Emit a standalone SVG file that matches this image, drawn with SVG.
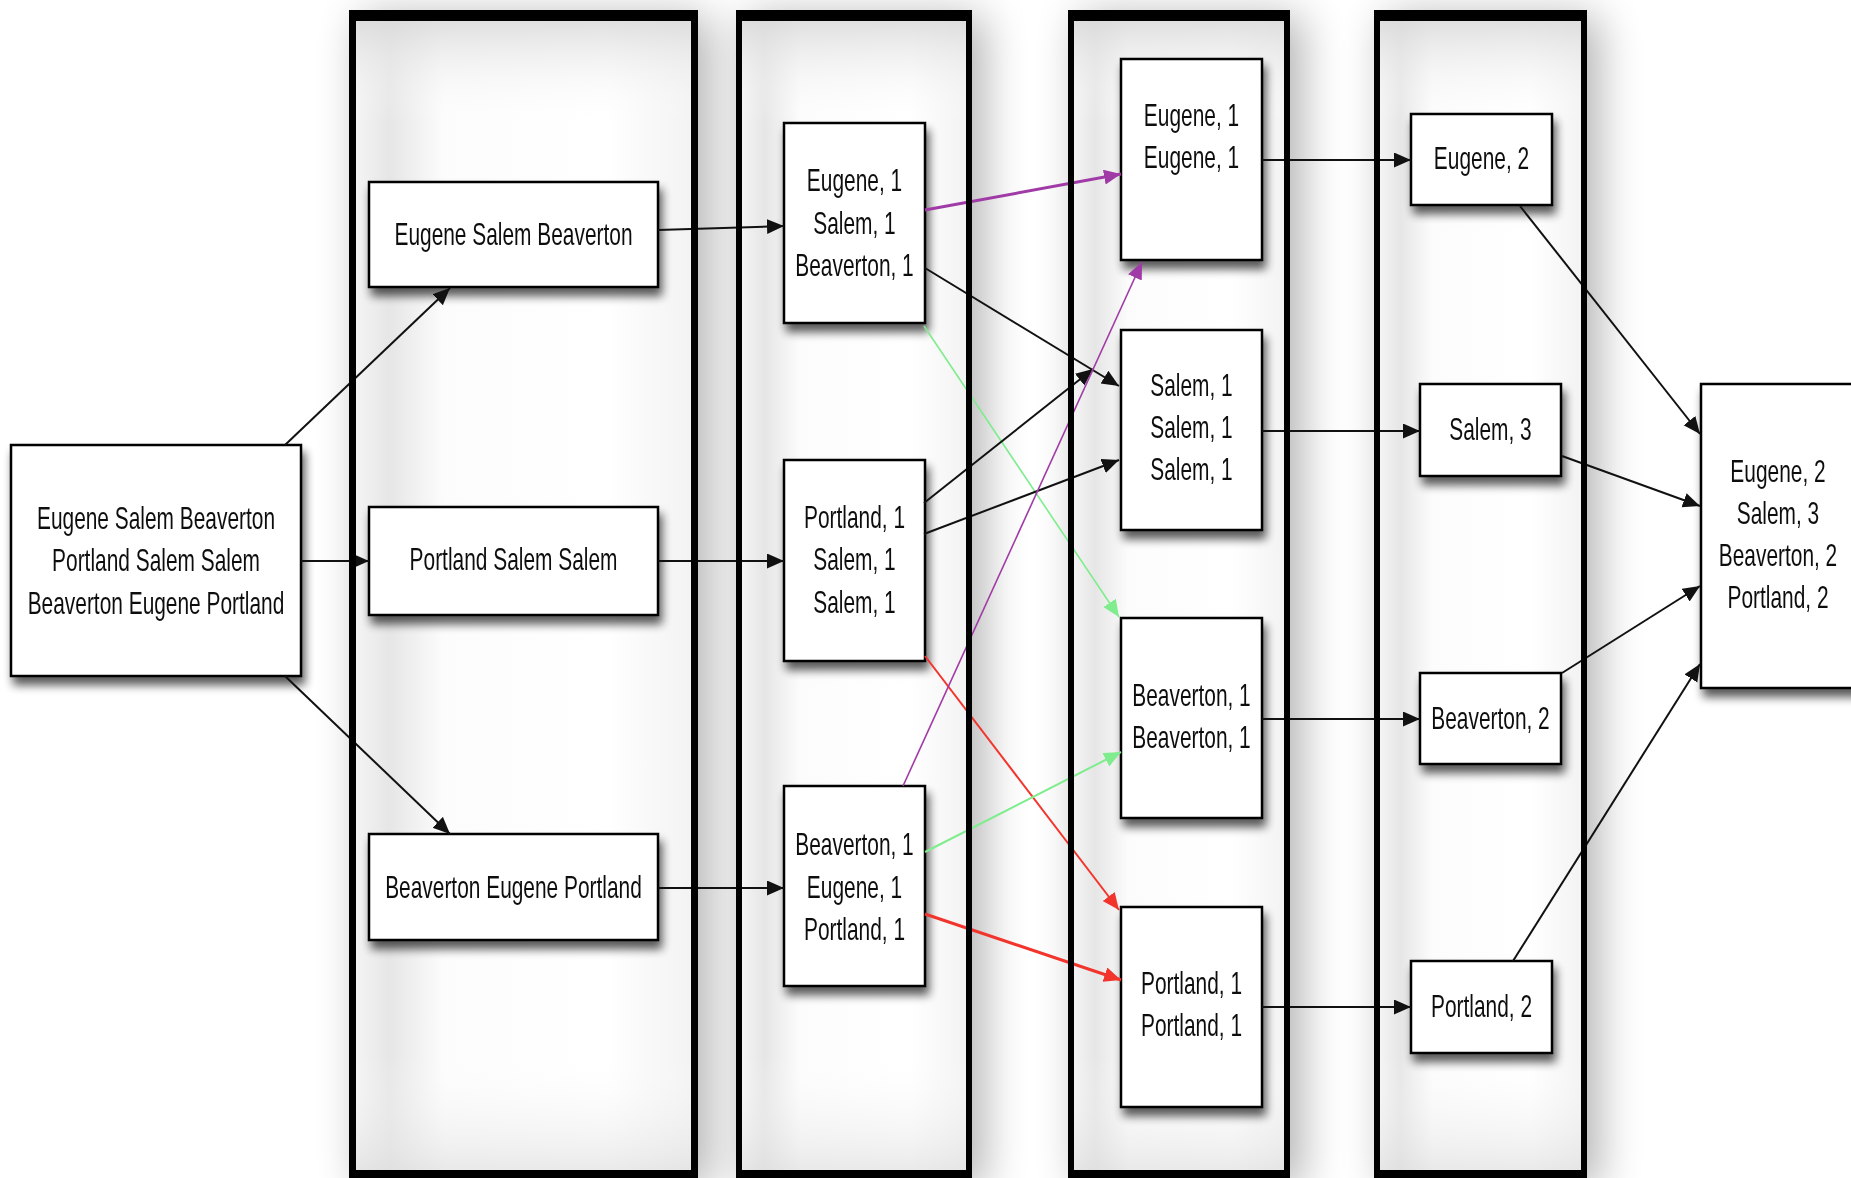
<svg xmlns="http://www.w3.org/2000/svg" width="1851" height="1178" viewBox="0 0 1851 1178">
<style>
  .lbl { font-family: "Liberation Sans", Arial, sans-serif; font-size: 32px; fill: #111111; text-anchor: middle; }
  .box { fill: #ffffff; stroke: #000000; stroke-width: 2.5; }
  .frame { fill: #000000; fill-rule: evenodd; }
  .colfill { fill: url(#colGradH); }
  .colfillV { fill: url(#colGradV); }
  .colshadow { fill: #000000; opacity: 0.3; filter: url(#colBlur); }
  .c { fill: none; stroke-width: 2; }
  .k { stroke: #111111; marker-end: url(#ak); }
  .p { stroke: #a03aa6; marker-end: url(#ap); }
  .g { stroke: #7fec8e; marker-end: url(#ag); }
  .r { stroke: #f2352c; marker-end: url(#ar); }
</style>
<defs>
  <filter id="colBlur" x="-30%" y="-10%" width="160%" height="120%">
    <feGaussianBlur stdDeviation="22"/>
  </filter>
  <filter id="nodeShadow" x="-20%" y="-20%" width="140%" height="150%">
    <feGaussianBlur in="SourceAlpha" stdDeviation="5"/>
    <feOffset dx="3" dy="8" result="b"/>
    <feComponentTransfer><feFuncA type="linear" slope="0.65"/></feComponentTransfer>
    <feMerge><feMergeNode/><feMergeNode in="SourceGraphic"/></feMerge>
  </filter>
  <linearGradient id="colGradH" x1="0" y1="0" x2="1" y2="0">
    <stop offset="0" stop-color="#f4f4f4"/>
    <stop offset="0.1" stop-color="#e6e6e6"/>
    <stop offset="0.26" stop-color="#fcfcfc"/>
    <stop offset="0.75" stop-color="#ffffff"/>
    <stop offset="1" stop-color="#f3f3f3"/>
  </linearGradient>
  <linearGradient id="colGradV" x1="0" y1="0" x2="0" y2="1">
    <stop offset="0" stop-color="#d8d8d8" stop-opacity="0.8"/>
    <stop offset="0.09" stop-color="#ffffff" stop-opacity="0"/>
    <stop offset="0.9" stop-color="#ffffff" stop-opacity="0"/>
    <stop offset="1" stop-color="#dcdcdc" stop-opacity="0.6"/>
  </linearGradient>
  <marker id="ak" markerUnits="userSpaceOnUse" markerWidth="18" markerHeight="16" refX="17" refY="7.5" orient="auto">
    <path d="M0,0 L17,7.5 L0,15 z" fill="#111111"/>
  </marker>
  <marker id="ap" markerUnits="userSpaceOnUse" markerWidth="18" markerHeight="16" refX="17" refY="7.5" orient="auto">
    <path d="M0,0 L17,7.5 L0,15 z" fill="#a03aa6"/>
  </marker>
  <marker id="ag" markerUnits="userSpaceOnUse" markerWidth="18" markerHeight="16" refX="17" refY="7.5" orient="auto">
    <path d="M0,0 L17,7.5 L0,15 z" fill="#7fec8e"/>
  </marker>
  <marker id="ar" markerUnits="userSpaceOnUse" markerWidth="18" markerHeight="16" refX="17" refY="7.5" orient="auto">
    <path d="M0,0 L17,7.5 L0,15 z" fill="#f2352c"/>
  </marker>
</defs>
<rect x="0" y="0" width="1851" height="1178" fill="#ffffff"/>

<g id="column-backgrounds">
  <rect class="colshadow" x="361" y="16" width="349" height="1172"/>
  <rect class="colshadow" x="748" y="16" width="236" height="1172"/>
  <rect class="colshadow" x="1080" y="16" width="222" height="1172"/>
  <rect class="colshadow" x="1386" y="16" width="213" height="1172"/>
  <rect class="colfill" x="356" y="21" width="335" height="1149"/>
  <rect class="colfillV" x="356" y="21" width="335" height="1149"/>
  <rect class="colfill" x="742" y="21" width="224" height="1149"/>
  <rect class="colfillV" x="742" y="21" width="224" height="1149"/>
  <rect class="colfill" x="1074" y="21" width="210" height="1149"/>
  <rect class="colfillV" x="1074" y="21" width="210" height="1149"/>
  <rect class="colfill" x="1380" y="21" width="201" height="1149"/>
  <rect class="colfillV" x="1380" y="21" width="201" height="1149"/>
</g>

<g id="input" filter="url(#nodeShadow)">
  <rect class="box" x="11" y="445" width="290" height="231"/>
  <g transform="translate(156,0) scale(0.653,1)">
    <text class="lbl" x="0" y="529">Eugene Salem Beaverton</text>
    <text class="lbl" x="0" y="571">Portland Salem Salem</text>
    <text class="lbl" x="0" y="614">Beaverton Eugene Portland</text>
  </g>
</g>

<g id="split1" filter="url(#nodeShadow)">
  <rect class="box" x="369" y="182" width="289" height="105"/>
  <g transform="translate(513.5,0) scale(0.653,1)"><text class="lbl" x="0" y="245">Eugene Salem Beaverton</text></g>
</g>
<g id="split2" filter="url(#nodeShadow)">
  <rect class="box" x="369" y="507" width="289" height="108"/>
  <g transform="translate(513.5,0) scale(0.653,1)"><text class="lbl" x="0" y="570">Portland Salem Salem</text></g>
</g>
<g id="split3" filter="url(#nodeShadow)">
  <rect class="box" x="369" y="834" width="289" height="106"/>
  <g transform="translate(513.5,0) scale(0.653,1)"><text class="lbl" x="0" y="898">Beaverton Eugene Portland</text></g>
</g>

<g id="map1" filter="url(#nodeShadow)">
  <rect class="box" x="784" y="123" width="141" height="200"/>
  <g transform="translate(854.5,0) scale(0.653,1)">
    <text class="lbl" x="0" y="191">Eugene, 1</text>
    <text class="lbl" x="0" y="234">Salem, 1</text>
    <text class="lbl" x="0" y="276">Beaverton, 1</text>
  </g>
</g>
<g id="map2" filter="url(#nodeShadow)">
  <rect class="box" x="784" y="460" width="141" height="201"/>
  <g transform="translate(854.5,0) scale(0.653,1)">
    <text class="lbl" x="0" y="528">Portland, 1</text>
    <text class="lbl" x="0" y="570">Salem, 1</text>
    <text class="lbl" x="0" y="613">Salem, 1</text>
  </g>
</g>
<g id="map3" filter="url(#nodeShadow)">
  <rect class="box" x="784" y="786" width="141" height="200"/>
  <g transform="translate(854.5,0) scale(0.653,1)">
    <text class="lbl" x="0" y="855">Beaverton, 1</text>
    <text class="lbl" x="0" y="898">Eugene, 1</text>
    <text class="lbl" x="0" y="940">Portland, 1</text>
  </g>
</g>

<g id="shuffle1" filter="url(#nodeShadow)">
  <rect class="box" x="1121" y="59" width="141" height="201"/>
  <g transform="translate(1191.5,0) scale(0.653,1)">
    <text class="lbl" x="0" y="126">Eugene, 1</text>
    <text class="lbl" x="0" y="168">Eugene, 1</text>
  </g>
</g>
<g id="shuffle2" filter="url(#nodeShadow)">
  <rect class="box" x="1121" y="330" width="141" height="200"/>
  <g transform="translate(1191.5,0) scale(0.653,1)">
    <text class="lbl" x="0" y="396">Salem, 1</text>
    <text class="lbl" x="0" y="438">Salem, 1</text>
    <text class="lbl" x="0" y="480">Salem, 1</text>
  </g>
</g>
<g id="shuffle3" filter="url(#nodeShadow)">
  <rect class="box" x="1121" y="618" width="141" height="200"/>
  <g transform="translate(1191.5,0) scale(0.653,1)">
    <text class="lbl" x="0" y="706">Beaverton, 1</text>
    <text class="lbl" x="0" y="748">Beaverton, 1</text>
  </g>
</g>
<g id="shuffle4" filter="url(#nodeShadow)">
  <rect class="box" x="1121" y="907" width="141" height="200"/>
  <g transform="translate(1191.5,0) scale(0.653,1)">
    <text class="lbl" x="0" y="994">Portland, 1</text>
    <text class="lbl" x="0" y="1036">Portland, 1</text>
  </g>
</g>

<g id="reduce1" filter="url(#nodeShadow)">
  <rect class="box" x="1411" y="114" width="141" height="91"/>
  <g transform="translate(1481.5,0) scale(0.653,1)"><text class="lbl" x="0" y="169">Eugene, 2</text></g>
</g>
<g id="reduce2" filter="url(#nodeShadow)">
  <rect class="box" x="1420" y="384" width="141" height="92"/>
  <g transform="translate(1490.5,0) scale(0.653,1)"><text class="lbl" x="0" y="440">Salem, 3</text></g>
</g>
<g id="reduce3" filter="url(#nodeShadow)">
  <rect class="box" x="1420" y="673" width="141" height="91"/>
  <g transform="translate(1490.5,0) scale(0.653,1)"><text class="lbl" x="0" y="729">Beaverton, 2</text></g>
</g>
<g id="reduce4" filter="url(#nodeShadow)">
  <rect class="box" x="1411" y="961" width="141" height="92"/>
  <g transform="translate(1481.5,0) scale(0.653,1)"><text class="lbl" x="0" y="1017">Portland, 2</text></g>
</g>

<g id="result" filter="url(#nodeShadow)">
  <rect class="box" x="1701" y="384" width="160" height="304"/>
  <g transform="translate(1778,0) scale(0.653,1)">
    <text class="lbl" x="0" y="482">Eugene, 2</text>
    <text class="lbl" x="0" y="524">Salem, 3</text>
    <text class="lbl" x="0" y="566">Beaverton, 2</text>
    <text class="lbl" x="0" y="608">Portland, 2</text>
  </g>
</g>

<g id="connectors">
  <path class="c k" d="M285,445 L450,288"/>
  <path class="c k" d="M301,561 L369,561"/>
  <path class="c k" d="M285,676 L450,834"/>
  <path class="c k" d="M658,230 L784,226"/>
  <path class="c k" d="M658,561 L784,561"/>
  <path class="c k" d="M658,888 L784,888"/>
  <path class="c p" style="stroke-width:3" d="M925,210 L1121,174"/>
  <path class="c k" d="M925,268 L1119,386"/>
  <path class="c g" style="stroke-width:1.6" d="M924,326 L1119,617"/>
  <path class="c k" d="M924,503 L1093,369"/>
  <path class="c k" d="M924,534 L1119,460"/>
  <path class="c r" d="M925,656 L1119,910"/>
  <path class="c p" style="stroke-width:1.6" d="M903,786 L1142,262"/>
  <path class="c g" d="M925,852 L1121,752"/>
  <path class="c r" style="stroke-width:3" d="M925,914 L1121,980"/>
  <path class="c k" d="M1262,160 L1411,160"/>
  <path class="c k" d="M1262,431 L1420,431"/>
  <path class="c k" d="M1262,719 L1420,719"/>
  <path class="c k" d="M1262,1007 L1411,1007"/>
  <path class="c k" d="M1520,206 L1700,434"/>
  <path class="c k" d="M1562,456 L1700,506"/>
  <path class="c k" d="M1562,673 L1700,586"/>
  <path class="c k" d="M1513,961 L1700,664"/>
</g>

<g id="column-frames">
  <path class="frame" d="M349,10 H698 V1190 H349 Z M356,21 V1170 H691 V21 Z"/>
  <path class="frame" d="M736,10 H972 V1190 H736 Z M742,21 V1170 H966 V21 Z"/>
  <path class="frame" d="M1068,10 H1290 V1190 H1068 Z M1074,21 V1170 H1284 V21 Z"/>
  <path class="frame" d="M1374,10 H1587 V1190 H1374 Z M1380,21 V1170 H1581 V21 Z"/>
</g>
</svg>
